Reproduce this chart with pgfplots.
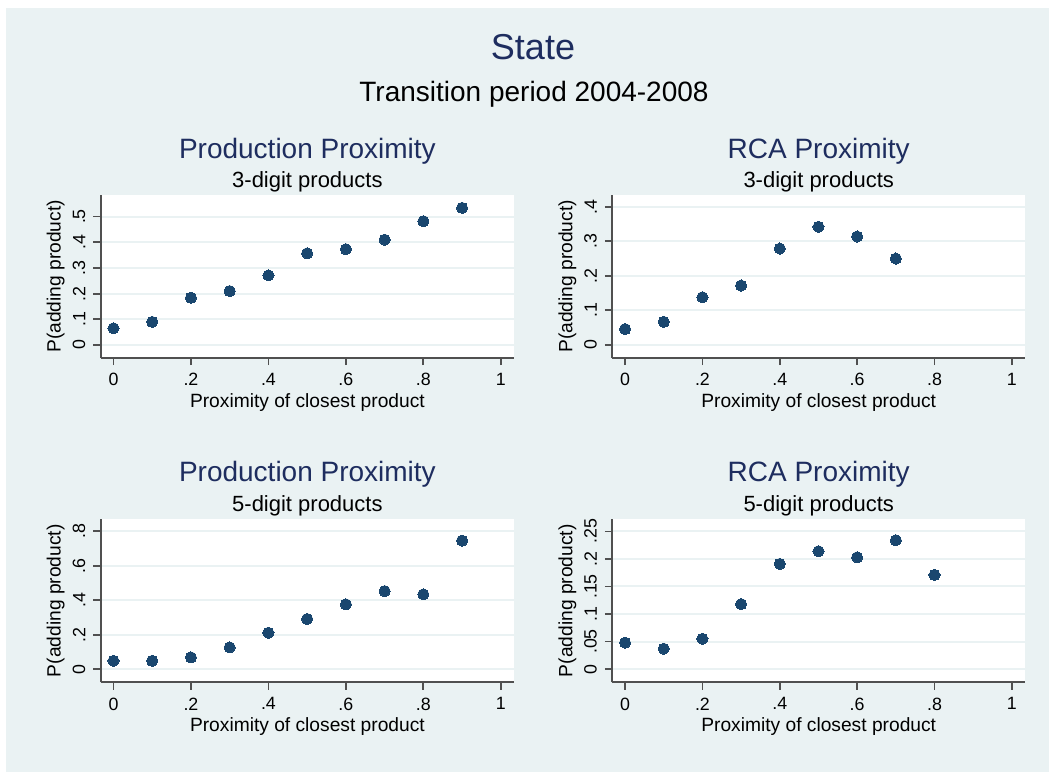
\documentclass[border=0pt]{standalone}
\usepackage{fontspec}
\setmainfont{Liberation Sans}
\usepackage{pgfplots}
\pgfplotsset{compat=1.18}
\definecolor{bg}{RGB}{234,242,243}
\definecolor{gridc}{RGB}{234,242,243}
\definecolor{mk}{RGB}{26,71,111}
\definecolor{ttl}{RGB}{30,45,95}
\definecolor{axc}{RGB}{80,80,80}

\pgfplotsset{stata/.style={
  scale only axis,
  axis x line=bottom, axis y line=left,
  axis line style={-, draw=axc, line width=0.9pt},
  axis background/.style={fill=white},
  tick align=outside, major tick length=3.7pt,
  tick style={draw=axc, line width=0.9pt},
  xmin=-0.033, xmax=1.034,
  xtick={0,0.2,0.4,0.6,0.8,1}, xticklabels={0,.2,.4,.6,.8,1},
  ymajorgrids, grid style={draw=gridc, line width=1pt},
  /pgf/number format/assume math mode=true,
  tick label style={font=\fontsize{8.9}{9}\selectfont, text=black},
  xticklabel style={anchor=north, inner sep=0pt, yshift=-3.8pt},
  yticklabel style={xshift=-3.8pt, rotate=90, anchor=south, inner sep=0pt},
  clip=false,
},
dots/.style={only marks, mark=*, mark size=2.8pt, mark options={fill=mk, draw=mk, line width=0pt}}
}

\begin{document}
\begin{tikzpicture}
\begin{scope}[x=0.5pt,y=-0.5pt]
\fill[white] (0,0) rectangle (1049,772);
\fill[bg] (6,8) rectangle (1049,772);
\end{scope}

% Top-left
\begin{axis}[stata, at={(50.35pt,-178.85pt)}, anchor=south west,
  width=206.65pt, height=81.35pt,
  ymin=-0.0495, ymax=0.584,
  ytick={0,0.1,0.2,0.3,0.4,0.5}, yticklabels={0,.1,.2,.3,.4,.5}]
\addplot[dots] coordinates {
(0,0.065) (0.1,0.090) (0.2,0.184) (0.3,0.210) (0.4,0.271)
(0.5,0.357) (0.6,0.373) (0.7,0.410) (0.8,0.482) (0.9,0.534)};
\end{axis}

% Top-right
\begin{axis}[stata, at={(306.15pt,-178.85pt)}, anchor=south west,
  width=206.35pt, height=81.35pt,
  ymin=-0.037, ymax=0.434,
  ytick={0,0.1,0.2,0.3,0.4}, yticklabels={0,.1,.2,.3,.4}]
\addplot[dots] coordinates {
(0,0.046) (0.1,0.067) (0.2,0.138) (0.3,0.172) (0.4,0.279)
(0.5,0.342) (0.6,0.314) (0.7,0.250)};
\end{axis}

% Bottom-left
\begin{axis}[stata, at={(50.35pt,-341.15pt)}, anchor=south west,
  width=206.65pt, height=81.5pt,
  ymin=-0.077, ymax=0.870,
  ytick={0,0.2,0.4,0.6,0.8}, yticklabels={0,.2,.4,.6,.8}]
\addplot[dots] coordinates {
(0,0.048) (0.1,0.048) (0.2,0.068) (0.3,0.126) (0.4,0.211)
(0.5,0.291) (0.6,0.376) (0.7,0.453) (0.8,0.434) (0.9,0.746)};
\end{axis}

% Bottom-right
\begin{axis}[stata, at={(306.15pt,-341.15pt)}, anchor=south west,
  width=206.35pt, height=81.5pt,
  ymin=-0.024, ymax=0.272,
  ytick={0,0.05,0.1,0.15,0.2,0.25}, yticklabels={0,.05,.1,.15,.2,.25}]
\addplot[dots] coordinates {
(0,0.048) (0.1,0.037) (0.2,0.055) (0.3,0.118) (0.4,0.191)
(0.5,0.214) (0.6,0.203) (0.7,0.234) (0.8,0.171)};
\end{axis}

\begin{scope}[x=0.5pt,y=-0.5pt]
\node[anchor=base, text=ttl, font=\fontsize{18}{20}\selectfont] at (533,59) {State};
\node[anchor=base, font=\fontsize{14}{16}\selectfont] at (534,101) {Transition period 2004-2008};

\node[anchor=base, text=ttl, font=\fontsize{14}{16}\selectfont] at (307.4,158) {Production Proximity};
\node[anchor=base, font=\fontsize{11}{12}\selectfont] at (307.4,187.3) {3-digit products};
\node[anchor=base, text=ttl, font=\fontsize{14}{16}\selectfont] at (818.7,158) {RCA Proximity};
\node[anchor=base, font=\fontsize{11}{12}\selectfont] at (818.7,187.3) {3-digit products};

\node[anchor=base, text=ttl, font=\fontsize{14}{16}\selectfont] at (307.4,481.7) {Production Proximity};
\node[anchor=base, font=\fontsize{11}{12}\selectfont] at (307.4,511) {5-digit products};
\node[anchor=base, text=ttl, font=\fontsize{14}{16}\selectfont] at (818.7,481.7) {RCA Proximity};
\node[anchor=base, font=\fontsize{11}{12}\selectfont] at (818.7,511) {5-digit products};

\node[anchor=base, font=\fontsize{9.6}{10}\selectfont] at (307.4,407) {Proximity of closest product};
\node[anchor=base, font=\fontsize{9.6}{10}\selectfont] at (818.7,407) {Proximity of closest product};
\node[anchor=base, font=\fontsize{9.6}{10}\selectfont] at (307.4,731) {Proximity of closest product};
\node[anchor=base, font=\fontsize{9.6}{10}\selectfont] at (818.7,731) {Proximity of closest product};

\node[rotate=90, anchor=base, font=\fontsize{9.6}{10}\selectfont] at (60.7,276.3) {P(adding product)};
\node[rotate=90, anchor=base, font=\fontsize{9.6}{10}\selectfont] at (572.3,276.3) {P(adding product)};
\node[rotate=90, anchor=base, font=\fontsize{9.6}{10}\selectfont] at (60.7,600.8) {P(adding product)};
\node[rotate=90, anchor=base, font=\fontsize{9.6}{10}\selectfont] at (572.3,600.8) {P(adding product)};
\end{scope}

\pgfresetboundingbox
\path[use as bounding box] (0pt,0pt) rectangle (524.5pt,-386pt);
\end{tikzpicture}
\end{document}
